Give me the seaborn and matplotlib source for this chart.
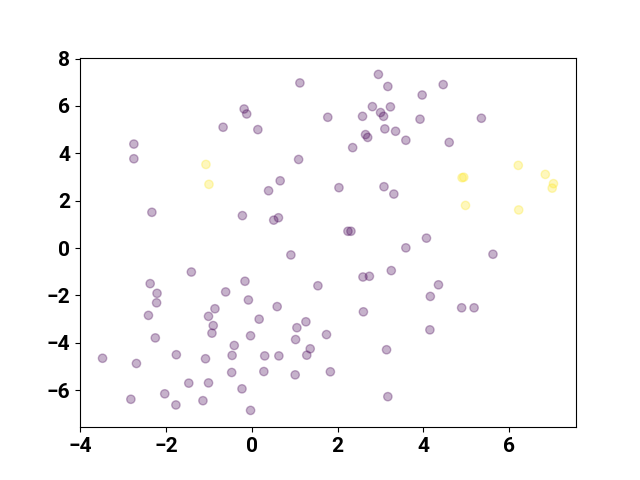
import numpy as np
import pandas as pd
import matplotlib
matplotlib.use('Agg')
import matplotlib.pyplot as plt
import seaborn as sns

# class 0 points (purple)
x0 = [-0.18, -0.12, -0.67, -2.75, -2.75, -2.33, -0.22,
      1.12, 2.95, 3.17, 3.97, 2.81, 3.23, 3.0, 3.07, 2.58, 1.77, 3.92, 0.14, 3.1,
      3.35, 2.65, 2.70, 3.59, 2.35, 1.09, 0.66, 0.39, 2.03, 3.08, 3.31, 0.62, 0.51,
      2.24, 2.31, 3.59,
      4.46, 5.35, 4.6, 4.07,
      -1.41, -2.37, -2.21, -2.22, -2.41, -2.25, -3.48, -2.69, -2.82, -2.03, -1.76,
      -1.77, -1.47, -1.14, -1.01, -1.08, -0.61, -0.86, -1.01, -0.9, -0.93, -0.16,
      -0.08, -0.41, -0.46, -0.47, -0.23, -0.03, -0.03,
      0.91, 2.59, 2.74, 3.25, 1.54, 0.59, 0.17, 1.26, 1.05, 1.02, 1.74, 1.36, 1.28,
      0.30, 0.63, 0.28, 1.01, 1.83, 2.6, 3.14, 3.17,
      5.62, 4.35, 4.16, 4.89, 5.18, 4.15]
y0 = [5.87, 5.66, 5.10, 4.39, 3.77, 1.51, 1.37,
      6.97, 7.33, 6.82, 6.46, 5.97, 5.96, 5.72, 5.56, 5.56, 5.52, 5.44, 5.0, 5.03,
      4.93, 4.79, 4.67, 4.55, 4.24, 3.74, 2.84, 2.42, 2.55, 2.59, 2.28, 1.28, 1.18,
      0.71, 0.71, 0.01,
      6.9, 5.48, 4.46, 0.42,
      -1.01, -1.5, -1.91, -2.31, -2.84, -3.79, -4.65, -4.87, -6.38, -6.15, -4.5,
      -6.62, -5.70, -6.44, -5.69, -4.67, -1.85, -2.56, -2.88, -3.27, -3.59, -1.40,
      -2.19, -4.11, -4.53, -5.25, -5.94, -3.7, -6.85,
      -0.29, -1.22, -1.19, -0.95, -1.59, -2.47, -3.0, -3.11, -3.36, -3.86, -3.65,
      -4.25, -4.52, -4.55, -4.55, -5.21, -5.35, -5.22, -2.69, -4.29, -6.27,
      -0.26, -1.55, -2.04, -2.52, -2.52, -3.45]

# class 1 points (yellow)
x1 = [-1.07, -1.0, 6.21, 4.9, 4.94, 6.84, 7.03, 7.0, 4.98, 6.22]
y1 = [3.53, 2.69, 3.49, 2.97, 2.99, 3.11, 2.72, 2.53, 1.8, 1.61]

df = pd.DataFrame({
    'x': x0 + x1,
    'y': y0 + y1,
    'label': [0] * len(x0) + [1] * len(x1),
})

plt.rcParams['font.family'] = ['Roboto', 'DejaVu Sans']
plt.rcParams['font.weight'] = 'bold'

fig, ax = plt.subplots(figsize=(6.4, 4.8), dpi=100)
cmap = plt.get_cmap('viridis')
sns.scatterplot(data=df, x='x', y='y', hue='label',
                palette={0: cmap(0.0), 1: cmap(1.0)},
                alpha=0.3, s=36, edgecolor='face', linewidth=1.0,
                legend=False, ax=ax)
ax.set_xlabel('')
ax.set_ylabel('')
ax.tick_params(labelsize=15)
for lab in ax.get_xticklabels() + ax.get_yticklabels():
    lab.set_fontweight('bold')

fig.savefig('out.png', dpi=100)
